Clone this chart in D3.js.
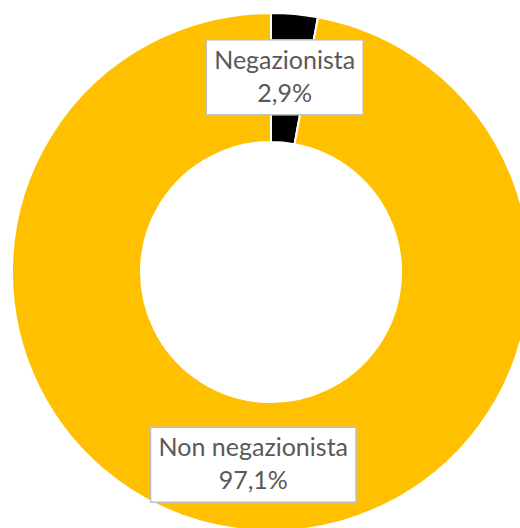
<!DOCTYPE html>
<html>
<head>
<meta charset="utf-8">
<script src="https://cdn.jsdelivr.net/npm/d3@7"></script>
<style>
  body { margin: 0; background: #fff; }
  svg { display: block; }
</style>
</head>
<body>
<svg id="graph"></svg>
<script>
// data
var categories = ["Negazionista", "Non negazionista"];
var values = [2.9, 97.1];
var valueLabels = ["2,9%", "97,1%"];
var colors = ["#000000", "#FFC000"];

var width = 520, height = 528;
var cx = 271, cy = 272,
    outerR = 259, innerR = 130;

var svg = d3.select("#graph")
  .attr("width", width)
  .attr("height", height);

var g = svg.append("g")
  .attr("transform", "translate(" + cx + "," + cy + ")");

var pie = d3.pie().sort(null).value(function(d) { return d; });
var arcs = pie(values);

var arc = d3.arc().innerRadius(innerR).outerRadius(outerR);

g.selectAll(".slice")
  .data(arcs)
  .enter().append("path")
  .attr("class", "slice")
  .attr("d", arc)
  .attr("fill", function(d, i) { return colors[i]; })
  .attr("stroke", "#fff")
  .attr("stroke-width", 2);

// data labels, boxed, at the ring centroid (first one nudged left like excel does)
var lineH = 33;
var nudge = [-4, 0];
var labels = g.selectAll(".lbl")
  .data(arcs)
  .enter().append("g")
  .attr("class", "lbl")
  .attr("transform", function(d, i) {
    var c = arc.centroid(d);
    return "translate(" + (c[0] + nudge[i]) + "," + c[1] + ")";
  });

labels.each(function(d, i) {
  var lb = d3.select(this);
  var box = lb.append("rect")
    .attr("fill", "#fff")
    .attr("stroke", "#bfbfbf")
    .attr("stroke-width", 1.5);
  var t = lb.append("text")
    .attr("text-anchor", "middle")
    .attr("font-family", "Lato, 'Open Sans', sans-serif")
    .attr("font-size", "25px")
    .attr("fill", "#595959");
  t.append("tspan").attr("x", 0).attr("y", -lineH / 2 + 7).text(categories[i]);
  t.append("tspan").attr("x", 0).attr("y", lineH / 2 + 7).text(valueLabels[i]);
  var w = t.node().getBBox().width + 16;
  var h = 75;
  box.attr("x", -w / 2).attr("y", -h / 2 - 1).attr("width", w).attr("height", h);
});
</script>
</body>
</html>
